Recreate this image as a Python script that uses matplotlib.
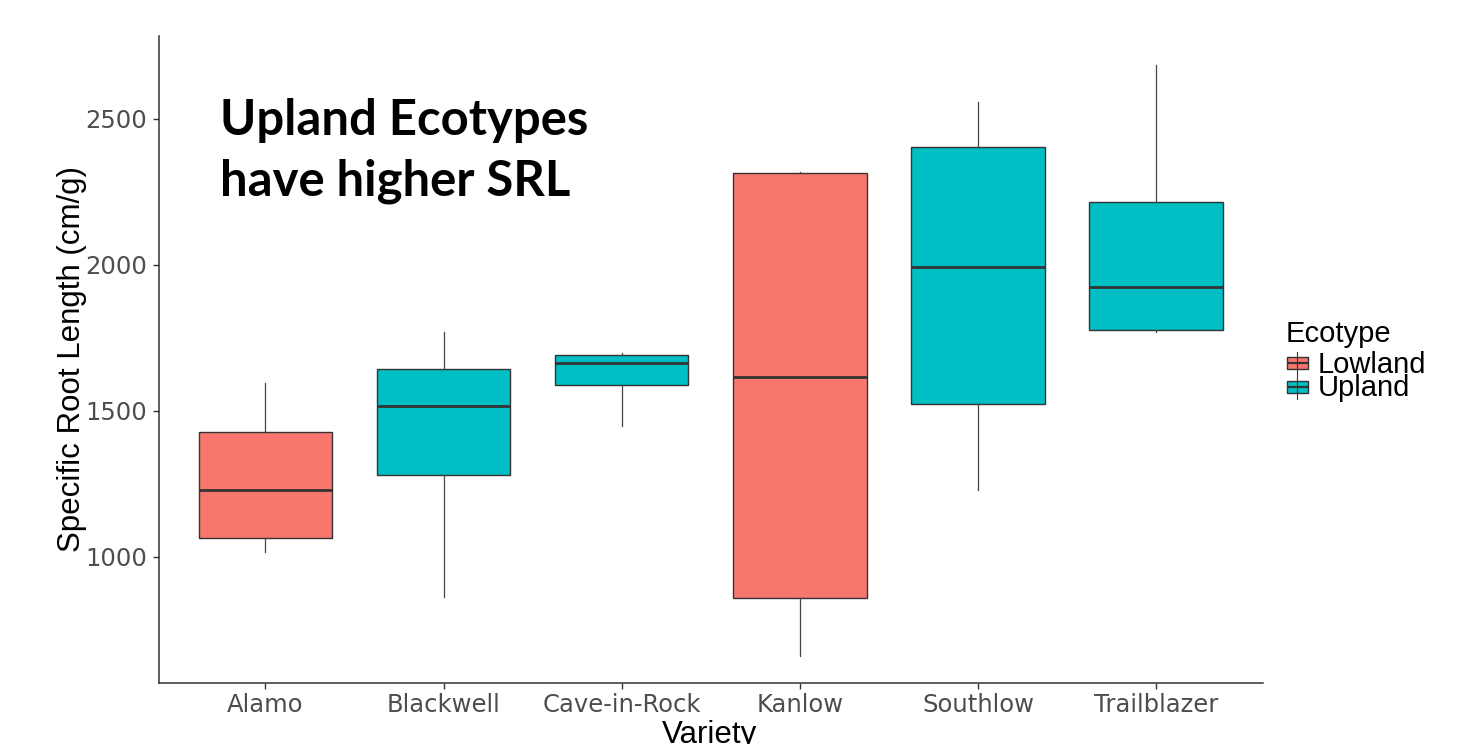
import matplotlib
matplotlib.use("Agg")
import matplotlib.pyplot as plt
from matplotlib.patches import Rectangle
from matplotlib.lines import Line2D

# Box summary per variety (cm/g)
varieties = ["Alamo", "Blackwell", "Cave-in-Rock", "Kanlow", "Southlow", "Trailblazer"]
ecotype = ["Lowland", "Upland", "Upland", "Lowland", "Upland", "Upland"]
whisker_low = [1015, 861, 1446, 660, 1227, 1769]
q1 = [1063, 1281, 1588, 857, 1524, 1775]
median = [1229, 1515, 1665, 1617, 1991, 1923]
q3 = [1426, 1643, 1690, 2313, 2405, 2215]
whisker_high = [1594, 1770, 1699, 2318, 2559, 2686]

ecotype_levels = ["Lowland", "Upland"]
palette = {"Lowland": "#F8766D", "Upland": "#00BFC4"}
yticks = [1000, 1500, 2000, 2500]

W, H = 1458, 744
fig = plt.figure(figsize=(W / 100, H / 100), dpi=100)


def fx(px):
    return px / W


def fy(py):
    return 1 - py / H


ax = fig.add_axes([fx(158.5), fy(682.7), fx(1263) - fx(158.5), fy(36) - fy(682.7)])

stats = []
for i, name in enumerate(varieties):
    stats.append(dict(label=name, whislo=whisker_low[i], q1=q1[i], med=median[i],
                      q3=q3[i], whishi=whisker_high[i], fliers=[]))

edge = "#333333"
bp = ax.bxp(stats, positions=range(1, len(varieties) + 1), widths=0.75,
            patch_artist=True, showcaps=False, showfliers=False,
            boxprops=dict(edgecolor=edge, linewidth=1.0),
            medianprops=dict(color=edge, linewidth=2.0, solid_capstyle="butt"),
            whiskerprops=dict(color="#444444", linewidth=0.9))
for patch, eco in zip(bp["boxes"], ecotype):
    patch.set_facecolor(palette[eco])

ax.set_xlim(0.4, 6.6)
ax.set_ylim(568, 2784)
ax.set_yticks(yticks)
ax.set_xticks(range(1, len(varieties) + 1))
ax.set_xticklabels(varieties)

for side in ["top", "right"]:
    ax.spines[side].set_visible(False)
for side in ["left", "bottom"]:
    ax.spines[side].set_color(edge)
    ax.spines[side].set_linewidth(1.1)

ax.tick_params(axis="both", colors=edge, width=1.0, length=4.5,
               labelsize=17.5, labelcolor="#4D4D4D")
ax.tick_params(axis="y", pad=3.5)
ax.tick_params(axis="x", pad=3)
for lab in ax.get_xticklabels() + ax.get_yticklabels():
    lab.set_family("DejaVu Sans")

# Axis titles
fig.text(fx(80), fy(359.5), "Specific Root Length (cm/g)", rotation=90,
         rotation_mode="anchor", ha="center", va="baseline",
         fontsize=22.5, family="Liberation Sans", color="black")
fig.text(fx(709), fy(743), "Variety", ha="center", va="baseline",
         fontsize=22.5, family="Liberation Sans", color="black")

# Annotation
fig.text(fx(220), fy(135), "Upland Ecotypes", ha="left", va="baseline",
         fontsize=35.3, family="Lato", fontweight="bold", color="black")
fig.text(fx(220), fy(195), "have higher SRL", ha="left", va="baseline",
         fontsize=35.3, family="Lato", fontweight="bold", color="black")

# Legend
fig.text(fx(1286), fy(341.7), "Ecotype", ha="left", va="baseline",
         fontsize=21, family="Liberation Sans", color="black")
for k, level in enumerate(ecotype_levels):
    dy = 24 * k
    x0, x1 = 1286.7, 1307.7
    y_top, y_bot = 356.7 + dy, 369.3 + dy
    xc = (x0 + x1) / 2
    fig.add_artist(Line2D([fx(xc), fx(xc)], [fy(351.7 + dy), fy(375 + dy)],
                          transform=fig.transFigure, color=edge, lw=0.8))
    fig.add_artist(Rectangle((fx(x0), fy(y_bot)), fx(x1) - fx(x0), fy(y_top) - fy(y_bot),
                             transform=fig.transFigure, facecolor=palette[level],
                             edgecolor=edge, lw=1.0))
    ym = (y_top + y_bot) / 2
    fig.add_artist(Line2D([fx(x0), fx(x1)], [fy(ym), fy(ym)],
                          transform=fig.transFigure, color=edge, lw=1.6,
                          solid_capstyle="butt"))
    fig.text(fx(1317.7), fy(373.3 + 23 * k), level, ha="left", va="baseline",
             fontsize=21, family="Liberation Sans", color="black")

fig.savefig("out.png", dpi=100)
